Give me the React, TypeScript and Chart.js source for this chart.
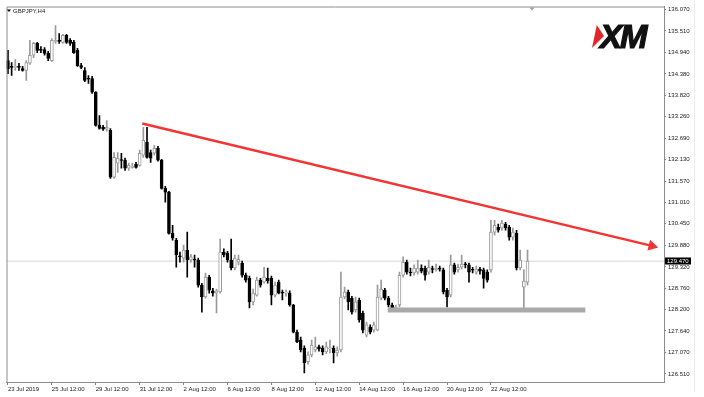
import React, { useEffect, useRef } from 'react';
import { Chart, registerables } from 'chart.js';

Chart.register(...registerables);

const symbolLabel = 'GBPJPY,H4';

const opens = [
  134.73, 134.58, 134.55, 134.58, 134.52, 134.47, 134.66, 134.87, 135.18, 135.02,
  135.02, 134.92, 134.73, 135.23, 135.26, 135.21, 135.39, 135.26, 135.21, 135.00,
  134.60, 134.47, 134.26, 134.26, 133.90, 133.03, 132.98, 132.93, 132.90, 131.67,
  132.04, 132.12, 132.12, 131.91, 131.93, 132.01, 131.98, 132.25, 132.59, 132.32,
  132.30, 132.43, 132.12, 131.38, 131.28, 130.20, 130.02, 129.60, 129.55, 129.76,
  129.50, 129.52, 129.50, 128.84, 128.53, 129.05, 128.69, 128.63, 128.66, 129.71,
  129.68, 129.50, 129.29, 129.44, 129.42, 129.10, 129.02, 128.40, 128.58, 128.97,
  128.92, 129.02, 129.02, 128.58, 128.92, 128.66, 128.63, 128.63, 128.32, 127.61,
  127.40, 127.19, 126.83, 127.01, 127.14, 127.22, 127.19, 127.09, 127.17, 127.19,
  127.06, 127.14, 128.53, 128.66, 128.50, 128.19, 128.45, 128.11, 127.53, 127.74,
  127.66, 127.66, 128.50, 128.71, 128.50, 128.32, 128.24, 128.32, 129.10, 129.44,
  129.18, 129.16, 129.18, 129.29, 129.29, 129.18, 129.26, 129.24, 129.29, 129.24,
  128.71, 128.58, 129.37, 129.24, 129.31, 129.39, 129.37, 129.24, 129.18, 129.26,
  129.24, 129.18, 129.24, 130.23, 130.36, 130.34, 130.44, 130.36, 130.10, 130.20,
  129.29, 128.79, 128.92,
];

const highs = [
  135.00, 134.68, 134.76, 134.66, 134.58, 134.73, 135.26, 135.21, 135.21, 135.10,
  135.07, 134.97, 135.31, 135.65, 135.44, 135.42, 135.42, 135.31, 135.26, 135.05,
  134.66, 134.55, 134.34, 134.32, 133.92, 133.29, 133.03, 133.16, 132.95, 132.32,
  132.32, 132.30, 132.17, 132.04, 132.04, 132.06, 132.38, 132.98, 132.98, 132.38,
  132.51, 132.48, 132.14, 131.43, 131.30, 130.41, 130.07, 129.71, 129.89, 130.23,
  129.65, 129.63, 129.55, 128.89, 129.16, 129.10, 128.76, 128.74, 130.05, 129.79,
  129.73, 130.05, 129.63, 129.63, 129.47, 129.16, 129.08, 128.74, 129.05, 129.02,
  129.31, 129.29, 129.08, 128.92, 128.97, 128.71, 128.71, 128.69, 128.34, 127.66,
  127.48, 127.25, 127.09, 127.40, 127.48, 127.27, 127.25, 127.35, 127.40, 127.25,
  127.22, 129.18, 128.79, 128.71, 128.55, 128.53, 128.50, 128.16, 127.87, 127.80,
  127.87, 128.84, 128.97, 128.76, 128.55, 128.37, 128.32, 129.18, 129.58, 129.50,
  129.29, 129.37, 129.50, 129.37, 129.34, 129.50, 129.34, 129.39, 129.34, 129.29,
  128.76, 129.63, 129.42, 129.39, 129.63, 129.44, 129.42, 129.31, 129.34, 129.31,
  129.29, 129.24, 130.54, 130.54, 130.44, 130.54, 130.49, 130.41, 130.34, 130.28,
  129.76, 129.24, 129.76,
];

const lows = [
  134.39, 134.34, 134.47, 134.47, 134.45, 134.21, 134.63, 134.81, 134.94, 134.94,
  134.87, 134.73, 134.71, 135.18, 135.18, 135.18, 135.18, 135.13, 134.92, 134.58,
  134.52, 134.18, 134.13, 133.87, 133.01, 132.93, 132.90, 132.88, 131.64, 131.64,
  131.80, 131.91, 131.85, 131.85, 131.91, 131.91, 131.96, 132.19, 132.17, 132.06,
  132.25, 132.09, 131.36, 131.02, 130.18, 130.02, 129.31, 129.44, 129.44, 129.05,
  129.44, 129.31, 128.79, 128.13, 128.50, 128.63, 128.55, 128.11, 128.63, 129.58,
  129.44, 129.24, 129.24, 129.37, 129.05, 128.92, 128.24, 128.32, 128.55, 128.79,
  128.89, 128.89, 128.32, 128.53, 128.61, 128.45, 128.55, 128.29, 127.59, 127.33,
  127.09, 126.54, 126.77, 126.96, 127.09, 127.11, 127.01, 127.04, 127.06, 126.80,
  126.98, 127.09, 128.48, 128.19, 128.08, 128.13, 127.87, 127.59, 127.48, 127.56,
  127.61, 127.64, 128.45, 128.45, 128.27, 128.16, 128.19, 128.27, 129.05, 129.13,
  129.08, 129.10, 129.13, 129.16, 128.97, 129.13, 129.16, 129.21, 129.21, 128.61,
  128.27, 128.53, 129.13, 129.18, 129.26, 129.29, 128.92, 129.16, 129.13, 129.13,
  128.76, 128.92, 129.18, 130.15, 130.23, 130.28, 130.28, 130.02, 130.02, 129.24,
  129.24, 128.19, 128.84,
];

const closes = [
  134.52, 134.55, 134.58, 134.55, 134.47, 134.68, 134.87, 135.18, 135.00, 135.00,
  134.92, 134.79, 135.26, 135.26, 135.23, 135.39, 135.21, 135.18, 134.94, 134.60,
  134.55, 134.21, 134.24, 133.90, 133.03, 132.95, 132.93, 132.98, 131.67, 132.19,
  132.17, 132.11, 131.91, 131.98, 131.96, 131.93, 132.30, 132.64, 132.19, 132.17,
  132.43, 132.12, 131.38, 131.28, 130.20, 130.07, 129.63, 129.58, 129.76, 129.50,
  129.58, 129.50, 128.84, 128.53, 129.05, 128.71, 128.63, 128.69, 129.71, 129.63,
  129.50, 129.29, 129.55, 129.52, 129.10, 128.97, 128.40, 128.63, 128.97, 128.84,
  129.05, 128.95, 128.58, 128.84, 128.63, 128.63, 128.66, 128.32, 127.61, 127.35,
  127.14, 126.80, 127.01, 127.27, 127.22, 127.17, 127.09, 127.22, 127.19, 127.06,
  127.14, 128.53, 128.66, 128.40, 128.13, 128.40, 127.93, 127.66, 127.80, 127.61,
  127.80, 128.53, 128.74, 128.50, 128.32, 128.21, 128.27, 129.10, 129.44, 129.18,
  129.16, 129.29, 129.29, 129.21, 129.10, 129.31, 129.25, 129.29, 129.26, 128.66,
  128.53, 129.37, 129.18, 129.31, 129.39, 129.37, 129.18, 129.23, 129.26, 129.21,
  129.02, 128.97, 130.23, 130.41, 130.28, 130.47, 130.34, 130.10, 130.23, 129.29,
  129.50, 128.95, 129.47,
];

const xTickIndex = [0, 12, 24, 36, 48, 60, 72, 84, 96, 108, 120, 132];
const xTickLabels = [
  '23 Jul 2019', '25 Jul 12:00', '29 Jul 12:00', '31 Jul 12:00', '2 Aug 12:00', '6 Aug 12:00',
  '8 Aug 12:00', '12 Aug 12:00', '14 Aug 12:00', '16 Aug 12:00', '20 Aug 12:00', '22 Aug 12:00',
];
const yTicks = [
  126.51, 127.07, 127.64, 128.2, 128.76, 129.32, 129.88, 130.45, 131.01,
  131.57, 132.13, 132.69, 133.26, 133.82, 134.38, 134.94, 135.51, 136.07,
];

const currentPrice = 129.47;
const trendX = [36.7, 176.0];
const trendY = [133.08, 129.87];
const supportX = [103.8, 157.8];
const supportY = [128.19, 128.19];

const X_MIN = -0.4;
const X_MAX = 179.3;
const Y_MIN = 126.3;
const Y_MAX = 136.149;

const FONT = '"Liberation Sans", Arial, sans-serif';

const overlayPlugin = {
  id: 'mtOverlay',
  afterDraw(chart: any) {
    const { ctx, chartArea, scales } = chart;
    const { left, top, right, bottom } = chartArea;
    ctx.save();
    ctx.strokeStyle = '#8c8c8c';
    ctx.lineWidth = 1;
    ctx.beginPath();
    ctx.moveTo(left + 0.5, bottom);
    ctx.lineTo(left + 0.5, top + 0.5);
    ctx.lineTo(right, top + 0.5);
    ctx.stroke();
    ctx.fillStyle = '#a0a0a0';
    ctx.beginPath();
    ctx.moveTo(529.5, top + 1);
    ctx.lineTo(534.5, top + 1);
    ctx.lineTo(532, top + 4);
    ctx.closePath();
    ctx.fill();
    ctx.strokeStyle = '#ececec';
    ctx.beginPath();
    ctx.moveTo(694.5, 0);
    ctx.lineTo(694.5, 392);
    ctx.stroke();
    const py = scales.y.getPixelForValue(currentPrice);
    ctx.fillStyle = '#000';
    ctx.fillRect(right + 1, Math.round(py) - 3.5, 26, 7);
    ctx.fillStyle = '#fff';
    ctx.font = `6px ${FONT}`;
    ctx.textBaseline = 'middle';
    ctx.textAlign = 'left';
    ctx.fillText(currentPrice.toFixed(3), right + 3, Math.round(py));
    ctx.fillStyle = '#000';
    ctx.beginPath();
    ctx.moveTo(7, 9.5);
    ctx.lineTo(11, 9.5);
    ctx.lineTo(9, 12);
    ctx.closePath();
    ctx.fill();
    ctx.fillStyle = '#222';
    ctx.font = `6px ${FONT}`;
    ctx.fillText(symbolLabel, 13, 11);
    ctx.restore();
  },
};

export default function App() {
  const canvasRef = useRef<HTMLCanvasElement | null>(null);

  useEffect(() => {
    const canvas = canvasRef.current;
    if (!canvas) return;
    const idx = opens.map((_, i) => i);
    const bull = opens.map((o, i) => closes[i] >= o);
    const bullColor = '#9a9a9a';

    const chart = new Chart(canvas, {
      type: 'bar',
      data: {
        datasets: [
          {
            type: 'line',
            label: 'price',
            data: [
              { x: X_MIN, y: currentPrice },
              { x: X_MAX, y: currentPrice },
            ],
            borderColor: '#d6d6d6',
            borderWidth: 1,
            pointRadius: 0,
            order: 6,
          } as any,
          {
            type: 'bar',
            label: 'wicks',
            data: idx.map((i) => ({ x: i, y: [lows[i], highs[i]] })),
            backgroundColor: bull.map((b) => (b ? bullColor : '#000')),
            borderWidth: 0,
            barThickness: 1,
            grouped: false,
            order: 5,
          } as any,
          {
            type: 'bar',
            label: 'bodies',
            data: idx.map((i) => ({ x: i, y: [opens[i], closes[i]] })),
            backgroundColor: bull.map((b) => (b ? '#ffffff' : '#000')),
            borderColor: bull.map((b) => (b ? bullColor : '#000')),
            borderWidth: 1,
            borderSkipped: false,
            barThickness: 3,
            minBarLength: 1,
            grouped: false,
            order: 4,
          } as any,
          {
            type: 'line',
            label: 'support',
            data: [
              { x: supportX[0], y: supportY[0] },
              { x: supportX[1], y: supportY[1] },
            ],
            borderColor: '#a9a9a9',
            borderWidth: 5,
            borderCapStyle: 'butt',
            pointRadius: 0,
            order: 2,
          } as any,
          {
            type: 'line',
            label: 'trend',
            data: [
              { x: trendX[0], y: trendY[0] },
              { x: trendX[1], y: trendY[1] },
            ],
            borderColor: '#f23434',
            borderWidth: 2.5,
            pointRadius: [0, 6.5],
            pointStyle: 'triangle',
            pointRotation: 103.5,
            pointBackgroundColor: '#f23434',
            pointBorderColor: '#f23434',
            pointBorderWidth: 0,
            order: 1,
          } as any,
        ],
      },
      options: {
        animation: false,
        responsive: false,
        events: [],
        layout: { padding: { left: 5, top: 6, right: 0, bottom: 0 } },
        plugins: {
          legend: { display: false },
          tooltip: { enabled: false },
          title: { display: false },
        },
        scales: {
          x: {
            type: 'linear',
            min: X_MIN,
            max: X_MAX,
            offset: false,
            position: 'bottom',
            afterBuildTicks: (s: any) => {
              s.ticks = xTickIndex.map((v) => ({ value: v }));
            },
            afterFit: (s: any) => {
              s.height = 15;
            },
            ticks: {
              autoSkip: false,
              maxRotation: 0,
              minRotation: 0,
              align: 'start',
              padding: 1,
              color: '#222',
              font: { size: 6, family: FONT },
              callback: (_v: any, i: number) => xTickLabels[i],
            },
            grid: { drawOnChartArea: false, offset: false, tickLength: 3, color: '#808080' },
            border: { color: '#8c8c8c' },
          },
          y: {
            type: 'linear',
            position: 'right',
            min: Y_MIN,
            max: Y_MAX,
            afterBuildTicks: (s: any) => {
              s.ticks = yTicks.map((v) => ({ value: v }));
            },
            afterFit: (s: any) => {
              s.width = 40;
            },
            ticks: {
              autoSkip: false,
              padding: 2,
              color: '#222',
              font: { size: 6, family: FONT },
              callback: (v: any) => Number(v).toFixed(3),
            },
            grid: { drawOnChartArea: false, tickLength: 2, color: '#808080' },
            border: { color: '#8c8c8c' },
          },
        },
      } as any,
      plugins: [overlayPlugin],
    });
    return () => chart.destroy();
  }, []);

  return (
    <div
      style={{
        position: 'fixed',
        left: 0,
        top: 0,
        width: 704,
        height: 397,
        background: '#ffffff',
        overflow: 'hidden',
      }}
    >
      <canvas ref={canvasRef} width={704} height={397} style={{ position: 'absolute', left: 0, top: 0 }} />
      <div
        style={{
          position: 'absolute',
          left: 592,
          top: 25,
          width: 12,
          height: 23,
          background: '#e3262b',
          clipPath: 'polygon(40% 0%, 100% 48%, 0% 100%)',
        }}
      />
      <div
        style={{
          position: 'absolute',
          left: 600,
          top: 20,
          font: `italic bold 33px ${FONT}`,
          lineHeight: '33px',
          letterSpacing: '-2px',
          color: '#111',
          WebkitTextStroke: '1.2px #111',
          whiteSpace: 'nowrap',
        }}
      >
        XM
      </div>
    </div>
  );
}
